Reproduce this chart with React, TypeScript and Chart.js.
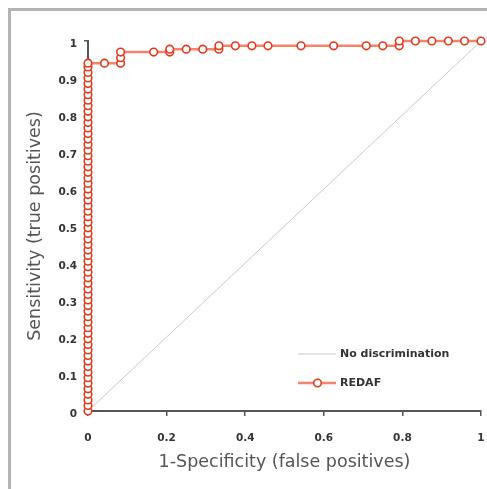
import React, { useEffect, useRef } from "react";
import { Chart, registerables } from "chart.js";

Chart.register(...registerables);

// Points of the REDAF ROC curve lying on FPR = 0 (sensitivity values)
const stackTpr = [
  0, 0.015, 0.03, 0.045, 0.06, 0.075, 0.09, 0.105, 0.12, 0.135, 0.15, 0.165,
  0.18, 0.195, 0.21, 0.225, 0.24, 0.255, 0.27, 0.285, 0.3, 0.315, 0.33, 0.345,
  0.36, 0.375, 0.39, 0.405, 0.42, 0.435, 0.45, 0.465, 0.48, 0.495, 0.51, 0.525,
  0.54, 0.555, 0.57, 0.585, 0.6, 0.615, 0.63, 0.645, 0.66, 0.675, 0.69, 0.705,
  0.72, 0.735, 0.75, 0.765, 0.78, 0.795, 0.81, 0.825, 0.84, 0.855, 0.87, 0.885,
  0.9, 0.915, 0.93, 0.94,
];

// Remaining REDAF points (FPR > 0)
const curveFpr = [
  0.042, 0.083, 0.083, 0.083, 0.167, 0.208, 0.208, 0.25, 0.292, 0.333, 0.333,
  0.375, 0.417, 0.458, 0.542, 0.625, 0.708, 0.75, 0.792, 0.792, 0.833, 0.875,
  0.917, 0.958, 1,
];
const curveTpr = [
  0.94, 0.94, 0.955, 0.97, 0.97, 0.97, 0.978, 0.978, 0.978, 0.978, 0.987,
  0.987, 0.987, 0.987, 0.987, 0.987, 0.987, 0.987, 0.987, 1, 1, 1, 1, 1, 1,
];

// No-discrimination diagonal
const diagFpr = [0, 1];
const diagTpr = [0, 1];

const seriesNames = ["No discrimination", "REDAF"];
const xTitle = "1-Specificity (false positives)";
const yTitle = "Sensitivity (true positives)";

const RED = "#e43a1c";
const LINE_RED = "rgba(243,112,80,0.85)";
const DIAG = "#c9c9c9";
const AXIS = "#555555";
const FONT = "'DejaVu Sans', Verdana, sans-serif";

const fmt = (v: any) => String(Number(Number(v).toFixed(1)));

const legendPlugin = {
  id: "insideLegend",
  afterDraw(chart: any) {
    const ctx = chart.ctx as CanvasRenderingContext2D;
    ctx.save();
    ctx.font = `bold 11px ${FONT}`;
    ctx.textBaseline = "middle";
    ctx.textAlign = "left";
    // row 1: diagonal
    ctx.strokeStyle = DIAG;
    ctx.lineWidth = 1;
    ctx.beginPath();
    ctx.moveTo(287, 343);
    ctx.lineTo(325, 343);
    ctx.stroke();
    ctx.fillStyle = "#333333";
    ctx.fillText(seriesNames[0], 329, 343);
    // row 2: REDAF
    ctx.strokeStyle = LINE_RED;
    ctx.lineWidth = 2.5;
    ctx.beginPath();
    ctx.moveTo(287, 372);
    ctx.lineTo(325, 372);
    ctx.stroke();
    ctx.beginPath();
    ctx.arc(306.5, 372, 3.8, 0, Math.PI * 2);
    ctx.fillStyle = "#ffffff";
    ctx.fill();
    ctx.strokeStyle = RED;
    ctx.lineWidth = 1.6;
    ctx.stroke();
    ctx.fillStyle = "#333333";
    ctx.fillText(seriesNames[1], 329, 372);
    ctx.restore();
  },
};

export default function App() {
  const ref = useRef<HTMLCanvasElement | null>(null);

  useEffect(() => {
    const canvas = ref.current;
    if (!canvas) return;

    const rocData = [
      ...stackTpr.map((y) => ({ x: 0, y })),
      ...curveFpr.map((x, i) => ({ x, y: curveTpr[i] })),
    ];
    const diagData = diagFpr.map((x, i) => ({ x, y: diagTpr[i] }));

    const chart = new Chart(canvas, {
      type: "line",
      data: {
        datasets: [
          {
            label: seriesNames[0],
            data: diagData,
            borderColor: DIAG,
            borderWidth: 1,
            pointRadius: 0,
            order: 2,
            clip: false as any,
          },
          {
            label: seriesNames[1],
            data: rocData,
            borderColor: LINE_RED,
            borderWidth: 2.5,
            pointRadius: 3.8,
            pointBorderWidth: 1.6,
            pointBorderColor: RED,
            pointBackgroundColor: "#ffffff",
            order: 1,
            clip: false as any,
          },
        ],
      },
      options: {
        animation: false,
        responsive: false,
        devicePixelRatio: 1,
        layout: { padding: { top: 30, right: 6, left: 0, bottom: 0 } },
        plugins: {
          legend: { display: false },
          tooltip: { enabled: false },
        },
        scales: {
          x: {
            type: "linear",
            min: 0,
            max: 1,
            ticks: {
              stepSize: 0.2,
              padding: 16,
              color: "#333333",
              font: { family: FONT, size: 10.5, weight: "bold" },
              callback: fmt,
            },
            grid: {
              drawOnChartArea: false,
              drawTicks: true,
              tickLength: 5,
              color: AXIS,
              lineWidth: 1.5,
            },
            border: { display: true, color: AXIS, width: 2 },
            title: {
              display: true,
              text: xTitle,
              color: "#555555",
              font: { family: FONT, size: 17.5 },
              padding: { top: 0, bottom: 16.5 },
            },
            afterFit(scale: any) {
              scale.height = 78;
              scale.paddingLeft = 0;
              scale.paddingRight = 0;
            },
          },
          y: {
            type: "linear",
            min: 0,
            max: 1,
            ticks: {
              stepSize: 0.1,
              padding: 7,
              labelOffset: 3,
              color: "#333333",
              font: { family: FONT, size: 10.5, weight: "bold" },
              callback: fmt,
            },
            grid: {
              drawOnChartArea: false,
              drawTicks: true,
              tickLength: 4,
              color: AXIS,
              lineWidth: 1.5,
            },
            border: { display: true, color: AXIS, width: 2 },
            title: {
              display: true,
              text: yTitle,
              color: "#555555",
              font: { family: FONT, size: 17.5 },
              padding: { top: 13.5, bottom: 0 },
            },
            afterFit(scale: any) {
              scale.width = 77;
              scale.paddingTop = 0;
              scale.paddingBottom = 0;
            },
          },
        },
      },
      plugins: [legendPlugin],
    });

    return () => chart.destroy();
  }, []);

  return (
    <div
      style={{
        position: "fixed",
        left: 8,
        top: 8,
        width: 476,
        height: 478,
        borderLeft: "3px solid #b4b4b4",
        borderTop: "3px solid #b4b4b4",
        background: "#ffffff",
      }}
    >
      <canvas
        ref={ref}
        width={476}
        height={478}
        style={{ display: "block", width: 476, height: 478 }}
      />
    </div>
  );
}
